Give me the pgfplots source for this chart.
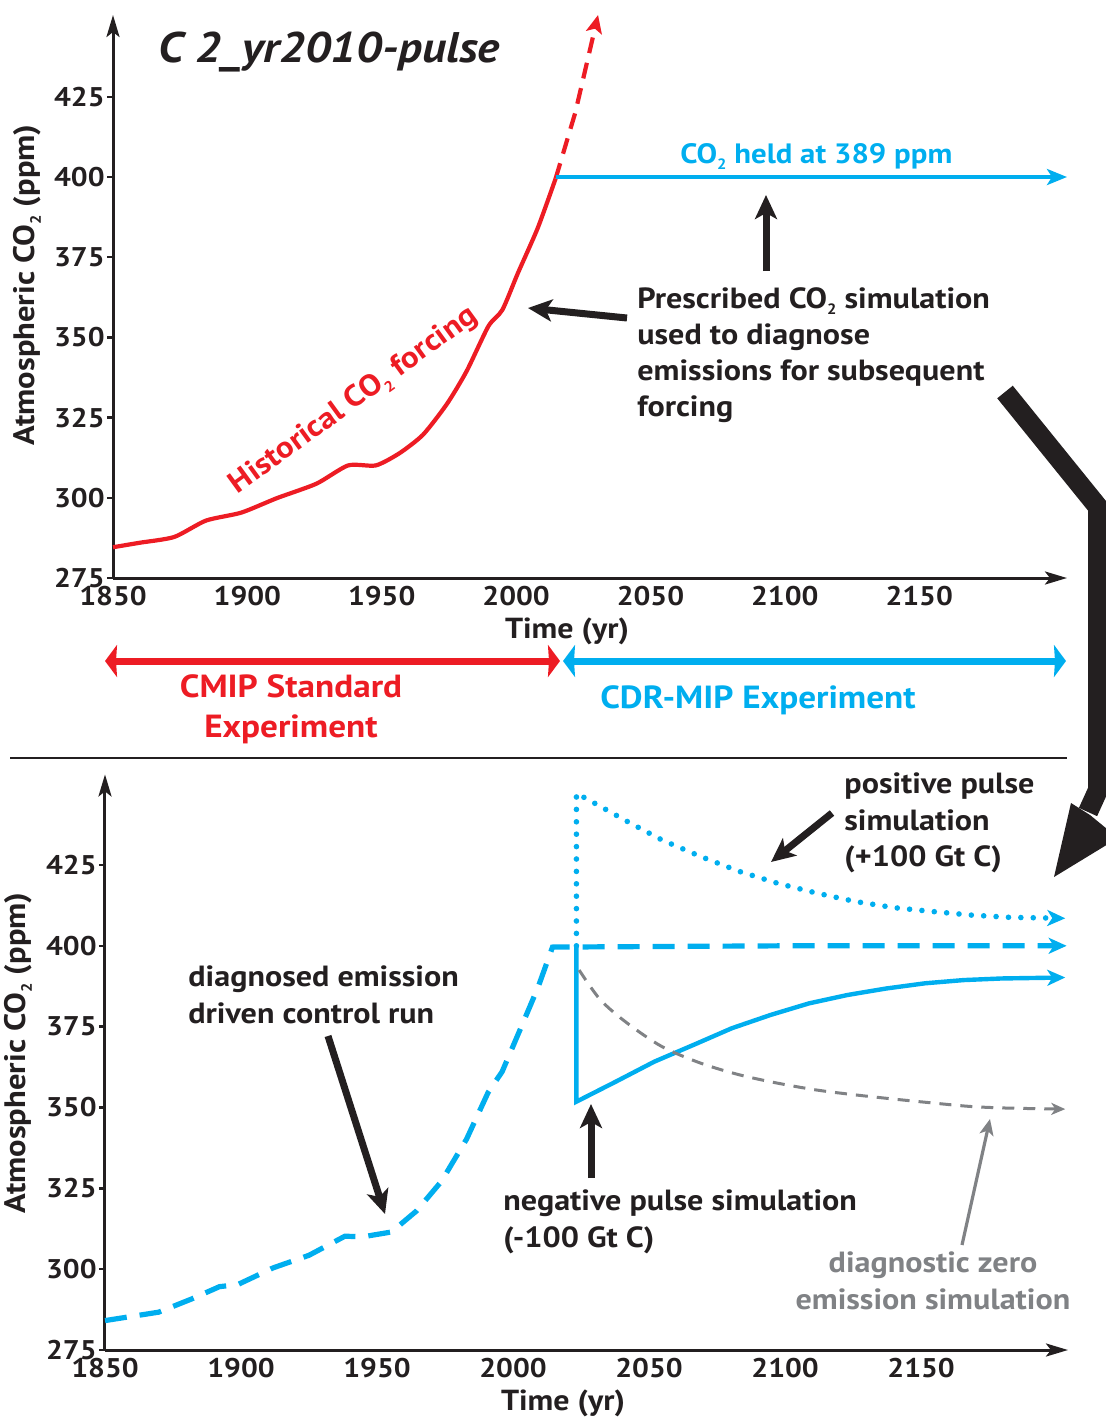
\documentclass[border=0pt]{standalone}
\usepackage{fontspec}
\setmainfont{PT Sans}[FakeStretch=1.1]
\setsansfont{PT Sans}[FakeStretch=1.1]
\usepackage{pgfplots}
\pgfplotsset{compat=1.18}
\usetikzlibrary{arrows.meta}
\definecolor{cred}{HTML}{ED1C24}
\definecolor{ccyan}{HTML}{00AEEF}
\definecolor{cgray}{HTML}{808285}
\definecolor{cblk}{HTML}{231F20}
\newcommand\sub{\raisebox{-0.45ex}{\fontsize{7.5}{7.5}\selectfont 2}}
\newcommand\fs[2]{\fontsize{#1}{#2}\selectfont}
\pgfplotsset{myax/.style={
  scale only axis, clip=false,
  axis x line=bottom, axis y line=left,
  x axis line style={line width=1.5pt, cblk, -{Stealth[length=11pt,width=6.5pt,inset=2.5pt]}},
  y axis line style={line width=1.5pt, cblk, -{Stealth[length=11pt,width=6.5pt,inset=2.5pt]}},
  xtick={1850,1900,...,2150}, ytick={275,300,...,425},
  tick align=outside,
  major tick length=3pt,
  ytick style={line width=1.2pt, cblk},
  xtick style={draw=none},
  /pgf/number format/assume math mode=true,
  /pgf/number format/set thousands separator={},
  tick label style={font=\bfseries\fs{13.5}{13.5}, text=cblk},
  yticklabel style={inner sep=1pt},
  xticklabel style={inner sep=1pt},
}}
\begin{document}
\begin{tikzpicture}
\useasboundingbox (0,0) rectangle (553pt,-710pt);
% ---------------- top axis
\begin{axis}[myax, at={(56.5pt,-289pt)}, anchor=south west,
  width=477pt, height=281.5pt, xmin=1850, xmax=2205, ymin=275, ymax=450.5]
\addplot[cred, line width=2.1pt, smooth, tension=0.4] coordinates {
(1850,284.6)(1860,286)(1872.8,287.8)(1884.6,292.9)(1897.8,295.4)(1911,299.9)(1925.7,304.4)(1937.5,310.1)(1947.8,310.1)(1956.6,313.9)(1965.4,319.7)(1974.3,329.3)(1981.6,339.5)(1989.7,353.5)(1994.9,358.6)(2000.7,370.1)(2008.1,384.2)(2014.7,399.5)};
\addplot[cred, line width=2.1pt, dash pattern=on 8pt off 5pt, -{Stealth[length=9pt,width=8pt,inset=2pt]}] coordinates {(2014.7,399.5)(2022,420)(2030.5,450.5)};
\addplot[ccyan, line width=2pt, -{Stealth[length=10pt,width=8pt,inset=2.5pt]}] coordinates {(2014.7,400)(2205,400)};
\end{axis}
% ---------------- bottom axis
\begin{axis}[myax, at={(52.5pt,-675pt)}, anchor=south west,
  width=481.5pt, height=287.8pt, xmin=1850, xmax=2204, ymin=275, ymax=453]
\addplot[ccyan, line width=2.6pt, dash pattern=on 11pt off 6.5pt, -{Stealth[length=9pt,width=8pt,inset=2.5pt]}] coordinates {
(1850,284.1)(1869.7,286.7)(1881.6,290.7)(1892.1,294.6)(1898.7,295.2)(1911.8,300.4)(1925,304.3)(1938.2,310.2)(1944.7,310)(1955.3,311.5)(1964.5,318)(1973.7,327.2)(1982.9,340.2)(1990.8,354.6)(1996,361.1)(2002.6,374.1)(2009.2,387.2)(2014.5,399.6)(2100,400)(2203.5,400)};
\addplot[ccyan, line width=2.8pt, line cap=round, dash pattern=on 0pt off 6.2pt, -{Stealth[length=9pt,width=8pt,inset=2.5pt]}] coordinates {
(2023.3,400)(2023.3,447.2)(2032.1,443.1)(2042.1,438.4)(2054.8,432.7)(2069.0,427.6)(2083.2,423.0)(2097.4,419.3)(2111.6,416.3)(2125.8,413.7)(2140.0,411.8)(2154.2,410.6)(2168.4,409.5)(2182.6,408.8)(2203,408.5)};
\addplot[ccyan, line width=2.2pt, line join=miter, -{Stealth[length=9pt,width=8pt,inset=2.5pt]}] coordinates {
(2023.3,400)(2023.3,351.8)(2037.8,358.0)(2052.0,364.2)(2066.2,369.3)(2080.4,374.5)(2094.6,378.6)(2108.8,382.2)(2123.0,384.8)(2137.2,386.8)(2151.4,388.4)(2165.6,389.4)(2179.7,389.9)(2203,390.2)};
\addplot[cgray, line width=1.5pt, smooth, dash pattern=on 6pt off 4.5pt, -{Stealth[length=7pt,width=6pt,inset=2pt]}] coordinates {
(2024.3,392.5)(2032.1,383.3)(2042.1,376.0)(2054.8,368.8)(2069.0,363.7)(2083.2,360.1)(2097.4,357.5)(2111.6,355.4)(2125.8,353.9)(2140.0,352.6)(2154.2,351.4)(2168.4,350.3)(2182.6,349.8)(2203,349.5)};
\end{axis}
% ---------------- annotations (pixel coordinates)
\begin{scope}[x=0.5pt, y=-0.5pt, text=cblk]
\node[anchor=base west, inner sep=0pt, font=\bfseries\itshape\fs{21.4}{24}] at (158,62) {C 2\_yr2010-pulse};
\node[rotate=90, font=\bfseries\fs{14.8}{17}] at (27,285) {Atmospheric CO\sub{} (ppm)};
\node[rotate=90, font=\bfseries\fs{14.8}{17}] at (18,1053) {Atmospheric CO\sub{} (ppm)};
\node[font=\bfseries\fs{14.5}{17}] at (567,631) {Time (yr)};
\node[font=\bfseries\fs{14.5}{17}] at (563,1403) {Time (yr)};
\node[rotate=36, text=cred, font=\bfseries\fs{15}{15}] at (354,401) {Historical CO\sub{} forcing};
\node[anchor=base west, inner sep=0pt, text=ccyan, font=\bfseries\fs{14}{14}] at (680,163) {CO\sub{} held at 389 ppm};
\begin{scope}[every node/.style={anchor=base west, inner sep=0pt, font=\bfseries\fs{14.6}{17}}]
\node at (637,308) {Prescribed CO\sub{} simulation};
\node at (637,344) {used to diagnose};
\node at (637,380) {emissions for subsequent};
\node at (637,416) {forcing};
\node at (844,793) {positive pulse};
\node at (844,830) {simulation};
\node at (844,866) {(+100 Gt C)};
\node at (188,986) {diagnosed emission};
\node at (188,1023) {driven control run};
\node at (503,1210) {negative pulse simulation};
\node at (503,1247) {(-100 Gt C)};
\end{scope}
\node[anchor=base, inner sep=0pt, text=cgray, font=\bfseries\fs{14.6}{17}] at (933,1272) {diagnostic zero};
\node[anchor=base, inner sep=0pt, text=cgray, font=\bfseries\fs{14.6}{17}] at (933,1309) {emission simulation};
\node[anchor=base, inner sep=0pt, text=cred, font=\bfseries\fs{16}{20}] at (291,697) {CMIP Standard};
\node[anchor=base, inner sep=0pt, text=cred, font=\bfseries\fs{16}{20}] at (291,737) {Experiment};
\node[anchor=base, inner sep=0pt, text=ccyan, font=\bfseries\fs{16}{20}] at (758,708) {CDR-MIP Experiment};
% arrows
\tikzset{blk/.style={cblk, line width=3.5pt, -{Stealth[length=12pt,width=11pt,inset=3pt]}}}
\draw[blk] (766,271) -- (766,195);
\draw[blk] (627,318) -- (528,308);
\draw[blk] (832,813) -- (771,862);
\draw[blk] (328,1036) -- (385,1214);
\draw[blk] (591,1178) -- (591,1104);
\draw[cgray, line width=1.6pt, -{Stealth[length=8pt,width=7pt,inset=2pt]}] (962,1245) -- (990,1119);
% big arrow
\draw[cblk, line width=10pt, line join=miter] (1005,392) -- (1098,507) -- (1098,790) -- (1088,812);
\fill[cblk] (1071,803) -- (1090,815) -- (1118,838) -- (1054,877) -- cycle;
% separator and experiment arrows
\draw[cblk, line width=0.8pt] (10,758) -- (1067,758);
\draw[cred, line width=3.5pt, {Stealth[length=6pt,width=16pt,inset=0.5pt]}-{Stealth[length=6pt,width=16pt,inset=0.5pt]}] (105,661) -- (560,661);
\draw[ccyan, line width=3.5pt, {Stealth[length=6pt,width=16pt,inset=0.5pt]}-{Stealth[length=6pt,width=16pt,inset=0.5pt]}] (563,661) -- (1066,661);
\end{scope}
\end{tikzpicture}
\end{document}
